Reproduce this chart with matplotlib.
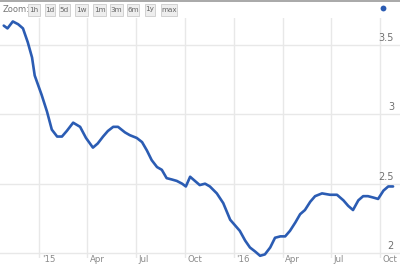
import matplotlib
matplotlib.use("Agg")
import matplotlib.pyplot as plt
import matplotlib.dates as mdates
from matplotlib.patches import FancyBboxPatch
from matplotlib.transforms import blended_transform_factory
import pandas as pd

dates = ["2014-10-27", "2014-11-03", "2014-11-13", "2014-11-23", "2014-12-02", "2014-12-11",
         "2014-12-19", "2014-12-24", "2015-01-06", "2015-01-16", "2015-01-25", "2015-02-04",
         "2015-02-13", "2015-02-22", "2015-03-06", "2015-03-19", "2015-03-30", "2015-04-12",
         "2015-04-21", "2015-05-01", "2015-05-10", "2015-05-20", "2015-05-29", "2015-06-11",
         "2015-06-20", "2015-07-03", "2015-07-13", "2015-07-22", "2015-07-31", "2015-08-10",
         "2015-08-19", "2015-08-28", "2015-09-07", "2015-09-16", "2015-09-26", "2015-10-03",
         "2015-10-11", "2015-10-20", "2015-10-29", "2015-11-08", "2015-11-17", "2015-11-30",
         "2015-12-12", "2015-12-25", "2016-01-03", "2016-01-12", "2016-01-22", "2016-01-31",
         "2016-02-10", "2016-02-19", "2016-02-28", "2016-03-09", "2016-03-18", "2016-03-28",
         "2016-04-06", "2016-04-15", "2016-04-25", "2016-05-04", "2016-05-13", "2016-05-23",
         "2016-06-01", "2016-06-14", "2016-06-29", "2016-07-12", "2016-07-24", "2016-08-02",
         "2016-08-11", "2016-08-21", "2016-08-30", "2016-09-08", "2016-09-18", "2016-09-27",
         "2016-10-07", "2016-10-16", "2016-10-25"]
values = [3.64, 3.62, 3.67, 3.65, 3.62, 3.52,
          3.41, 3.28, 3.14, 3.02, 2.89, 2.84,
          2.84, 2.88, 2.94, 2.91, 2.83, 2.76,
          2.79, 2.84, 2.88, 2.91, 2.91, 2.87,
          2.85, 2.83, 2.80, 2.74, 2.67, 2.62,
          2.60, 2.54, 2.53, 2.52, 2.50, 2.48,
          2.55, 2.52, 2.49, 2.50, 2.48, 2.43,
          2.36, 2.24, 2.20, 2.16, 2.09, 2.04,
          2.01, 1.98, 1.99, 2.04, 2.11, 2.12,
          2.12, 2.16, 2.22, 2.28, 2.31, 2.37,
          2.41, 2.43, 2.42, 2.42, 2.38, 2.34,
          2.31, 2.38, 2.41, 2.41, 2.40, 2.39,
          2.45, 2.48, 2.48]

xtick_dates = ["2015-01-01", "2015-04-01", "2015-07-01", "2015-10-01",
               "2016-01-01", "2016-04-01", "2016-07-01", "2016-10-01"]
xtick_labels = ["'15", "Apr", "Jul", "Oct", "'16", "Apr", "Jul", "Oct"]
ytick_values = [2.0, 2.5, 3.0, 3.5]
ytick_labels = ["2", "2.5", "3", "3.5"]
zoom_buttons = ["1h", "1d", "5d", "1w", "1m", "3m", "6m", "1y", "max"]

W, H = 400, 265
fig = plt.figure(figsize=(W / 100, H / 100), dpi=100)
fig.patch.set_facecolor("white")

top_px, bot_px = 18, 258
ax = fig.add_axes([0, (H - bot_px) / H, 1, (bot_px - top_px) / H])
ax.set_facecolor("white")
for s in ax.spines.values():
    s.set_visible(False)

x = mdates.date2num(pd.to_datetime(dates))
ax.plot(x, values, color="#2b5cb3", lw=1.9, solid_capstyle="round", solid_joinstyle="round", zorder=3)

ax.set_xlim(mdates.date2num(pd.Timestamp("2014-10-20")), mdates.date2num(pd.Timestamp("2016-11-07")))
ax.set_ylim(1.964, 3.695)
ax.set_xticks([])
ax.set_yticks([])

grid_c = "#e8e8e8"
for d in xtick_dates:
    ax.axvline(mdates.date2num(pd.Timestamp(d)), color=grid_c, lw=1.0, zorder=1)
for v in ytick_values:
    ax.axhline(v, color=grid_c, lw=1.0, zorder=1)

txt_c = "#8a8a8a"
trx = blended_transform_factory(ax.transData, fig.transFigure)
for d, lab in zip(xtick_dates, xtick_labels):
    ax.text(mdates.date2num(pd.Timestamp(d)) + 5, 0.5 / H, lab, transform=trx,
            fontsize=6.2, color=txt_c, ha="left", va="bottom", clip_on=False)

try_ = blended_transform_factory(fig.transFigure, ax.transData)
for v, lab in zip(ytick_values, ytick_labels):
    ax.text(394 / W, v + 0.05, lab, transform=try_, fontsize=7, color="#707070",
            ha="right", va="center", zorder=4)

# top zoom bar
fig.add_artist(plt.Line2D([0, 1], [1 - 0.8 / H, 1 - 0.8 / H], transform=fig.transFigure,
                          color="#9a9a9a", lw=1.2))
fig.text(3 / W, 1 - 9.5 / H, "Zoom:", fontsize=6, color="#777777", ha="left", va="center")
btn_x = [28, 45, 59, 75, 93, 110, 127, 145, 161]
btn_w = [12, 10, 11, 13, 13, 13, 12, 10, 16]
for bx, bw, lab in zip(btn_x, btn_w, zoom_buttons):
    fig.add_artist(FancyBboxPatch((bx / W, 1 - 15.5 / H), bw / W, 12 / H,
                                  boxstyle="square,pad=0", transform=fig.transFigure,
                                  facecolor="#eeeeee", edgecolor="#cccccc", lw=0.6))
    fig.text((bx + bw / 2) / W, 1 - 9.5 / H, lab, fontsize=5.2, color="#666666",
             ha="center", va="center")

fig.add_artist(plt.Line2D([383 / W], [1 - 8 / H], transform=fig.transFigure,
                          marker="o", markersize=4.2, color="#2b5cb3", markeredgewidth=0))

fig.savefig("out.png", dpi=100, facecolor="white")
